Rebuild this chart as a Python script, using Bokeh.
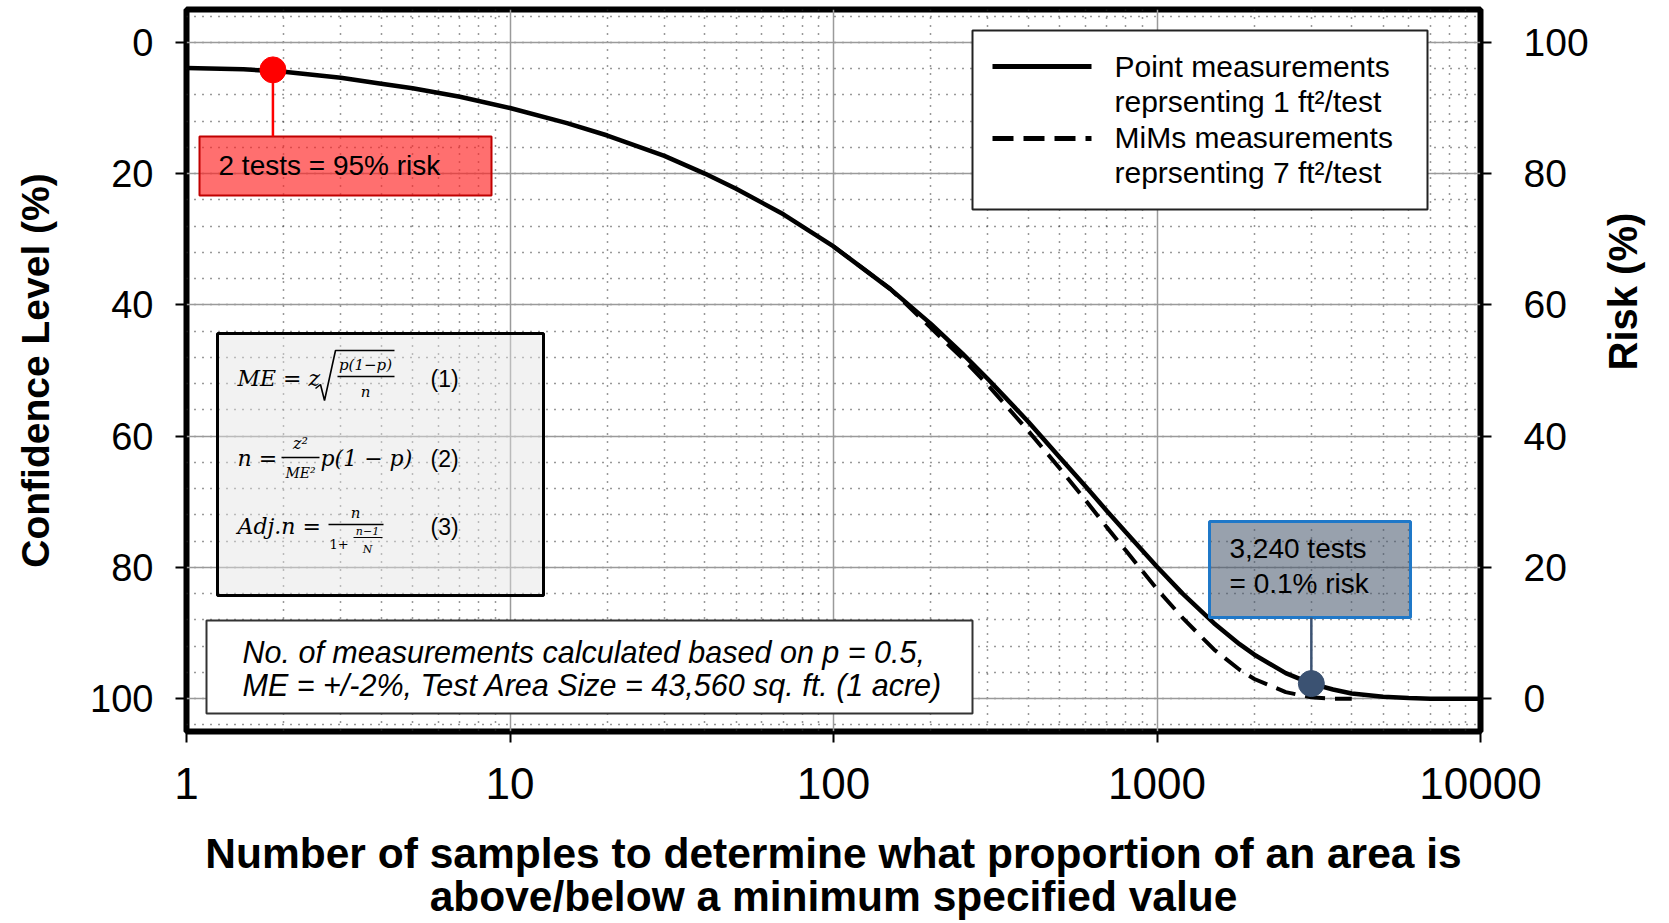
import math
from bokeh.plotting import figure
from bokeh.models import Range1d, LinearAxis, FixedTicker, Label, BasicTickFormatter
from bokeh.embed import file_html
from bokeh.resources import INLINE

# ---------------- data ----------------
n_point = [1, 1.5, 2, 3, 4, 5, 7, 10, 15, 20, 30, 40, 50, 70, 100, 150, 200, 250, 300, 400,
           500, 600, 700, 800, 1000, 1200, 1500, 1800, 2000, 2500, 3000, 3500, 4000, 5000,
           6000, 7000, 8000, 10000]
conf_point = [3.9, 4.1, 4.5, 5.4, 6.3, 7.0, 8.3, 10.0, 12.3, 14.2, 17.3, 20.0, 22.3, 26.2, 31.1,
              37.6, 42.9, 47.4, 51.3, 57.8, 63.2, 67.6, 71.4, 74.6, 79.9, 84.0, 88.5, 91.7,
              93.3, 96.1, 97.7, 98.6, 99.2, 99.7, 99.9, 100.0, 100.0, 100.0]

n_mims = [100, 150, 200, 250, 300, 400, 500, 600, 700, 800, 1000, 1200, 1500, 1800, 2000,
          2500, 3000, 3500, 4000]
conf_mims = [31.1, 37.6, 43.5, 48.1, 52.2, 59.2, 64.9, 69.7, 73.9, 77.4, 83.3, 87.7, 92.5,
             95.6, 97.0, 99.0, 99.8, 100.0, 100.0]

red_point_n = [1.85]
red_point_conf = [4.2]
blue_point_n = [3000]
blue_point_conf = [97.7]

x_ticks = [1, 10, 100, 1000, 10000]
x_tick_labels = ["1", "10", "100", "1000", "10000"]
conf_ticks = [0, 20, 40, 60, 80, 100]
risk_ticks = [0, 20, 40, 60, 80, 100]

x_title = ["Number of samples to determine what proportion of an area is",
           "above/below a minimum specified value"]
legend_labels = [["Point measurements", "reprsenting 1 ft\u00b2/test"],
                 ["MiMs measurements", "reprsenting 7 ft\u00b2/test"]]
red_note = "2 tests = 95% risk"
blue_note = ["3,240 tests", "= 0.1% risk"]
info_note = ["No. of measurements calculated based on p = 0.5,",
             "ME = +/-2%, Test Area Size = 43,560 sq. ft. (1 acre)"]

# ---------------- layout (pixels) ----------------
W, H = 1669, 923
L, R, T, B = 186, 1480, 9, 731
Y0, Y1 = -5, 105


def X(px):
    return 10 ** (4.0 * (px - L) / (R - L))


def Y(py):
    return Y0 + (Y1 - Y0) * (py - T) / (B - T)


FONT = "Liberation Sans"
SERIF = "DejaVu Serif"

p = figure(width=W, height=H,
           x_axis_type="log", x_range=Range1d(1, 10000), y_range=Range1d(Y1, Y0),
           output_backend="svg", toolbar_location=None,
           min_border_left=L, min_border_right=W - R, min_border_top=T,
           min_border_bottom=H - B)
p.background_fill_color = "white"
p.border_fill_color = "white"
p.outline_line_color = "black"
p.outline_line_width = 6

# axes
xt = FixedTicker(ticks=x_ticks,
                 minor_ticks=[k * 10 ** d for d in range(4) for k in range(2, 10)])
yt = FixedTicker(ticks=conf_ticks, minor_ticks=list(range(-4, 105, 4)))
p.xaxis.ticker = xt
p.xaxis.formatter = BasicTickFormatter()
p.xaxis.major_label_overrides = {v: s for v, s in zip(x_ticks, x_tick_labels)}
p.yaxis.ticker = yt
p.xgrid.ticker = xt
p.ygrid.ticker = yt

p.extra_y_ranges = {"risk": Range1d(100 - Y1, 100 - Y0)}
raxis = LinearAxis(y_range_name="risk", ticker=FixedTicker(ticks=risk_ticks),
                   axis_label="Risk (%)")
p.add_layout(raxis, "right")

p.xaxis.axis_label = "\n".join(x_title)
p.yaxis[0].axis_label = "Confidence Level (%)"

for ax in [p.xaxis[0], p.yaxis[0], raxis]:
    ax.axis_line_color = None
    ax.major_tick_out = 11
    ax.major_tick_in = 0
    ax.major_tick_line_width = 2
    ax.major_tick_line_color = "black"
    ax.minor_tick_line_color = None
    ax.major_label_text_font = FONT
    ax.major_label_text_color = "black"
    ax.axis_label_text_font = FONT
    ax.axis_label_text_font_style = "bold"
    ax.axis_label_text_color = "black"

p.xaxis.major_label_text_font_size = "44px"
p.xaxis.major_label_standoff = 25
p.xaxis.axis_label_text_font_size = "42.5px"
p.xaxis.axis_label_text_line_height = 0.92
p.xaxis.axis_label_standoff = 28

p.yaxis[0].major_label_text_font_size = "38px"
p.yaxis[0].major_label_standoff = 22
p.yaxis[0].axis_label_text_font_size = "39px"
p.yaxis[0].axis_label_standoff = 30

raxis.major_label_text_font_size = "39px"
raxis.major_label_standoff = 32
raxis.axis_label_text_font_size = "40px"
raxis.axis_label_standoff = 31
raxis.axis_label_orientation = math.pi / 2

for g in [p.xgrid[0], p.ygrid[0]]:
    g.grid_line_color = "#9a9a9a"
    g.grid_line_width = 1.5
    g.minor_grid_line_color = "#333333"
    g.minor_grid_line_width = 1.5
    g.minor_grid_line_dash = "1 7"

# curves
p.line(n_point, conf_point, line_color="black", line_width=4.5)
p.line(n_mims, conf_mims, line_color="black", line_width=4, line_dash="20 10")

# boxes
p.quad(left=[X(972)], right=[X(1427)], top=[Y(30)], bottom=[Y(209)],
       fill_color="white", line_color="#222222", line_width=2)
p.quad(left=[X(217)], right=[X(543)], top=[Y(333)], bottom=[Y(595)],
       fill_color="#e3e3e3", fill_alpha=0.45, line_color="black", line_width=3)
p.quad(left=[X(206)], right=[X(972)], top=[Y(620)], bottom=[Y(713)],
       fill_color="white", line_color="#333333", line_width=2)
p.quad(left=[X(199)], right=[X(491)], top=[Y(136)], bottom=[Y(195)],
       fill_color="#ff2222", fill_alpha=0.65, line_color="#c00000", line_width=2)
p.quad(left=[X(1209)], right=[X(1410)], top=[Y(521)], bottom=[Y(617)],
       fill_color="#44546a", fill_alpha=0.55, line_color="#1f78c8", line_width=3)

# legend samples
p.line([X(992), X(1091)], [Y(66), Y(66)], line_color="black", line_width=5)
p.line([X(992), X(1091)], [Y(138), Y(138)], line_color="black", line_width=5,
       line_dash="21 10")

# stems and markers
p.segment(x0=red_point_n, y0=red_point_conf, x1=red_point_n, y1=[Y(136)],
          line_color="red", line_width=2.5)
p.scatter(red_point_n, red_point_conf, size=26, fill_color="red", line_color="red")
p.segment(x0=blue_point_n, y0=blue_point_conf, x1=blue_point_n, y1=[Y(617)],
          line_color="#3b5272", line_width=2.5)
p.scatter(blue_point_n, blue_point_conf, size=26, fill_color="#3b5272",
          line_color="#3b5272")


# drawing helpers
def seg(pts, w=1.6):
    p.line([X(a) for a, b in pts], [Y(b) for a, b in pts], line_color="black",
           line_width=w)


def txt(px, py, s, size, font=FONT, style="normal", align="left", color="black"):
    p.add_layout(Label(x=X(px), y=Y(py), text=s, text_font=font, text_font_size=f"{size}px",
                       text_font_style=style, text_align=align, text_baseline="middle",
                       text_color=color))


# legend texts
txt(1114, 66, legend_labels[0][0], 30)
txt(1114, 101, legend_labels[0][1], 30)
txt(1114, 137, legend_labels[1][0], 30)
txt(1114, 172, legend_labels[1][1], 30)

# notes
txt(218, 165, red_note, 28)
txt(1229, 548, blue_note[0], 28)
txt(1229, 583, blue_note[1], 28)
txt(242, 651, info_note[0], 30.5, style="italic")
txt(242, 684, info_note[1], 30.5, style="italic")

# equation (1)
txt(237, 378, "ME = z", 22, font=SERIF, style="italic")
seg([(315, 388), (320, 384), (324, 400), (335, 350), (394, 350)])
txt(365, 364, "p(1\u2212p)", 15, font=SERIF, style="italic", align="center")
seg([(337, 376), (394, 376)], 1.5)
txt(365, 391, "n", 15, font=SERIF, style="italic", align="center")
txt(430, 378, "(1)", 23)

# equation (2)
txt(237, 458, "n =", 22, font=SERIF, style="italic")
txt(300, 443, "z\u00b2", 16, font=SERIF, style="italic", align="center")
seg([(281, 457), (319, 457)], 1.5)
txt(300, 472, "ME\u00b2", 14, font=SERIF, style="italic", align="center")
txt(320, 458, "p(1 \u2212 p)", 22, font=SERIF, style="italic")
txt(430, 458, "(2)", 23)

# equation (3)
txt(237, 526, "Adj.n =", 22, font=SERIF, style="italic")
txt(355, 512, "n", 15, font=SERIF, style="italic", align="center")
seg([(328, 524), (383, 524)], 1.5)
txt(329, 543, "1+", 13, font=SERIF)
txt(367, 531, "n\u22121", 11, font=SERIF, style="italic", align="center")
seg([(353, 537), (382, 537)], 1.2)
txt(367, 549, "N", 11, font=SERIF, style="italic", align="center")
txt(430, 526, "(3)", 23)

open("out.html", "w").write(file_html(p, INLINE))
